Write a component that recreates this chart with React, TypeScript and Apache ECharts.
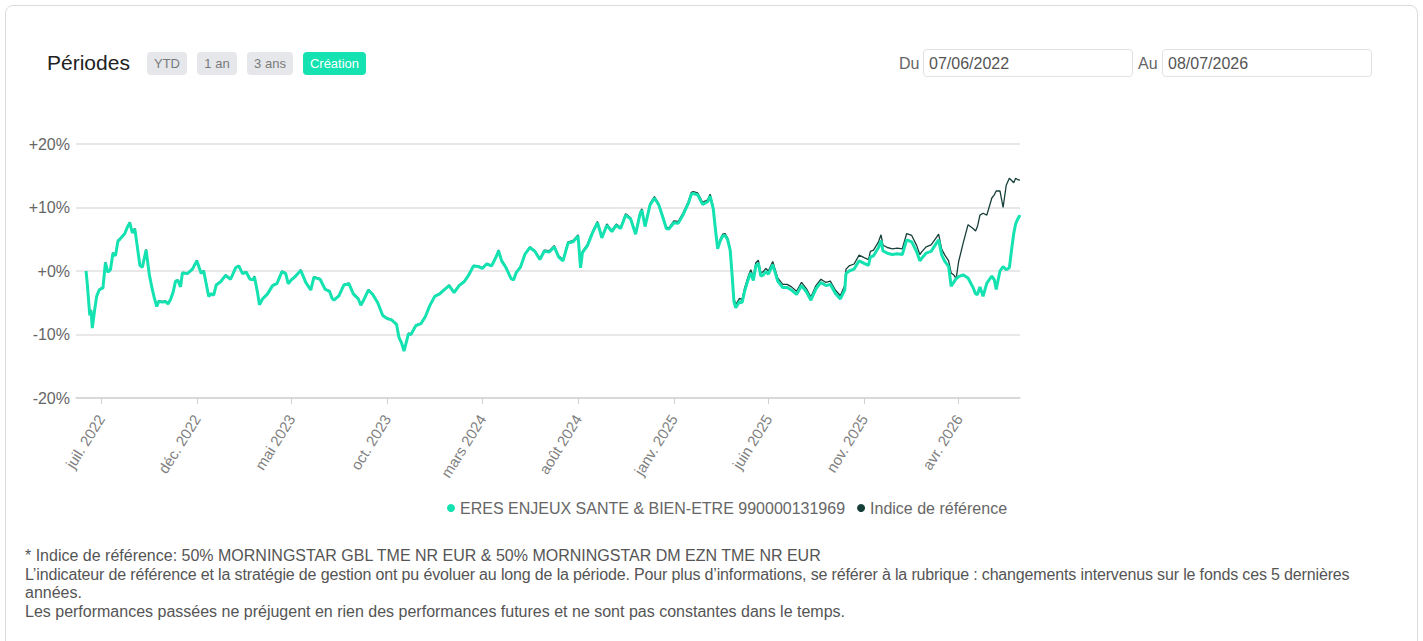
import React, { useEffect, useRef } from "react";
import * as echarts from "echarts";

// ---------- DATA ----------
const dates: string[] = [
  "2022-06-07","2022-06-09","2022-06-13","2022-06-15","2022-06-17","2022-06-21","2022-06-24","2022-06-28",
  "2022-07-01","2022-07-04","2022-07-08","2022-07-12","2022-07-16","2022-07-20","2022-07-24","2022-07-28",
  "2022-08-01","2022-08-08","2022-08-12","2022-08-16","2022-08-20","2022-08-24","2022-08-28",
  "2022-09-01","2022-09-05","2022-09-11","2022-09-16","2022-09-20","2022-09-24","2022-09-28",
  "2022-10-01","2022-10-08","2022-10-12","2022-10-16","2022-10-20","2022-10-24","2022-10-28",
  "2022-11-01","2022-11-05","2022-11-08","2022-11-16","2022-11-24",
  "2022-12-01","2022-12-08","2022-12-12","2022-12-16","2022-12-20","2022-12-24","2022-12-28",
  "2023-01-01","2023-01-08","2023-01-16","2023-01-24",
  "2023-02-01","2023-02-06","2023-02-12","2023-02-18","2023-02-24",
  "2023-03-01","2023-03-03","2023-03-08","2023-03-11","2023-03-16","2023-03-24",
  "2023-04-01","2023-04-08","2023-04-16","2023-04-22","2023-04-26",
  "2023-05-01","2023-05-08","2023-05-16","2023-05-24",
  "2023-06-01","2023-06-06","2023-06-16","2023-06-24",
  "2023-07-01","2023-07-05","2023-07-08","2023-07-16","2023-07-24",
  "2023-08-01","2023-08-08","2023-08-16","2023-08-20","2023-08-24",
  "2023-09-01","2023-09-08","2023-09-16","2023-09-24",
  "2023-10-01","2023-10-08","2023-10-16","2023-10-20","2023-10-24","2023-10-28",
  "2023-11-01","2023-11-04","2023-11-08","2023-11-16","2023-11-24",
  "2023-12-01","2023-12-08","2023-12-16","2023-12-24",
  "2024-01-01","2024-01-08","2024-01-16","2024-01-24",
  "2024-02-01","2024-02-08","2024-02-16","2024-02-24",
  "2024-03-01","2024-03-08","2024-03-16","2024-03-24","2024-03-27",
  "2024-04-01","2024-04-08","2024-04-16","2024-04-20","2024-04-24",
  "2024-05-01","2024-05-08","2024-05-16","2024-05-24",
  "2024-06-01","2024-06-08","2024-06-16","2024-06-24",
  "2024-07-01","2024-07-08","2024-07-16","2024-07-24",
  "2024-08-01","2024-08-05","2024-08-08","2024-08-16","2024-08-24",
  "2024-09-01","2024-09-05","2024-09-08","2024-09-16","2024-09-24",
  "2024-10-01","2024-10-08","2024-10-16","2024-10-24",
  "2024-11-01","2024-11-08","2024-11-11","2024-11-16","2024-11-24",
  "2024-12-01","2024-12-08","2024-12-16","2024-12-20","2024-12-24",
  "2025-01-01","2025-01-08","2025-01-16","2025-01-24","2025-01-29",
  "2025-02-01","2025-02-08","2025-02-16","2025-02-24","2025-02-28",
  "2025-03-05","2025-03-08","2025-03-12","2025-03-16","2025-03-20","2025-03-24","2025-03-28",
  "2025-04-01","2025-04-04","2025-04-07","2025-04-10","2025-04-16","2025-04-20","2025-04-24","2025-04-28",
  "2025-05-01","2025-05-04","2025-05-08","2025-05-12","2025-05-16","2025-05-20","2025-05-24","2025-05-28",
  "2025-06-01","2025-06-08","2025-06-16","2025-06-24",
  "2025-07-01","2025-07-08","2025-07-16","2025-07-24",
  "2025-08-01","2025-08-08","2025-08-16","2025-08-24",
  "2025-09-01","2025-09-08","2025-09-16","2025-09-24",
  "2025-10-01","2025-10-03","2025-10-08","2025-10-16","2025-10-24",
  "2025-11-01","2025-11-08","2025-11-11","2025-11-16","2025-11-24","2025-11-28",
  "2025-12-01","2025-12-08","2025-12-16","2025-12-24",
  "2026-01-01","2026-01-08","2026-01-16","2026-01-24","2026-01-29",
  "2026-02-01","2026-02-08","2026-02-16","2026-02-24","2026-02-28",
  "2026-03-05","2026-03-10","2026-03-16","2026-03-20","2026-03-24","2026-03-28",
  "2026-04-01","2026-04-08","2026-04-16","2026-04-24","2026-04-28",
  "2026-05-01","2026-05-05","2026-05-10","2026-05-16","2026-05-24","2026-05-28","2026-05-31",
  "2026-06-06","2026-06-11","2026-06-16","2026-06-21","2026-06-25","2026-06-28",
  "2026-07-01","2026-07-04","2026-07-08",
];

const fundValues: number[] = [
  0.0, -2.0, -7.0, -6.2, -9.0, -6.0, -4.0, -3.0,
  -2.8, -2.7, 1.3, -0.2, 0.2, 2.8, 2.4, 4.7,
  5.1, 5.9, 6.9, 7.6, 6.0, 6.6, 3.8,
  0.9, 0.6, 3.3, -0.5, -2.5, -4.2, -5.6,
  -4.8, -4.9, -4.8, -5.2, -4.5, -3.4, -1.6,
  -1.5, -2.5, -0.3, -0.4, 0.3,
  1.6, -0.4, 0.0, -2.0, -4.0, -3.6, -3.8,
  -2.2, -1.7, -0.7, -1.3,
  0.5, 0.8, -0.4, -0.2, -1.3,
  -1.4, -0.9, -3.4, -5.3, -4.4, -3.6,
  -2.3, -2.0, -0.1, -0.4, -2.0,
  -1.4, -0.8, 0.1, -1.8,
  -3.0, -1.0, -1.3, -2.9,
  -3.2, -4.3, -4.6, -3.9, -2.2,
  -2.0, -3.6, -4.4, -5.4, -4.7,
  -3.0, -3.7, -5.0, -7.0,
  -7.5, -7.7, -8.4, -10.5, -11.3, -12.6,
  -11.1, -9.9, -10.0, -8.6, -8.3,
  -7.2, -5.5, -4.0, -3.6,
  -2.9, -2.3, -3.4, -2.3,
  -1.7, -0.7, 0.8, 0.7,
  0.4, 1.1, 0.8, 2.4, 3.2,
  1.6, 0.5, -1.2, -1.4, -0.3,
  0.6, 2.6, 3.7, 3.1,
  1.8, 3.1, 3.0, 3.8,
  2.2, 1.6, 4.4, 4.6,
  5.5, 0.5, 2.9, 4.0, 6.0,
  7.6, 6.3, 5.2, 7.2, 6.2,
  7.2, 6.7, 8.8, 8.2,
  5.8, 9.0, 9.6, 7.0, 10.4,
  11.5, 10.4, 8.0, 6.7, 6.6,
  7.6, 7.5, 8.9, 10.6, 12.1,
  12.2, 12.0, 10.5, 10.9, 11.8,
  9.8, 7.0, 3.5, 4.7, 5.5, 5.6, 4.9,
  3.3, -0.5, -4.8, -5.8, -4.8, -5.0, -3.2, -1.9,
  -1.0, -0.3, -1.5, 0.8, 1.2, -0.8, -0.6, -0.1,
  -0.5, 1.0, -1.6, -2.6,
  -2.6, -3.0, -3.7, -2.3,
  -3.3, -4.6, -2.8, -1.8,
  -2.3, -2.1, -3.5, -4.4,
  -3.0, -0.4, 0.0, 0.3, 1.6,
  1.2, 0.9, 2.2, 2.4, 3.7, 4.8,
  3.2, 2.8, 2.6, 2.7,
  2.6, 4.9, 4.6, 3.0, 1.6,
  2.0, 2.8, 3.1, 4.3, 4.9,
  2.5, 1.5, 0.7, -2.4, -1.8, -1.2,
  -0.9, -0.6, -1.1, -2.6, -3.6,
  -3.7, -2.5, -4.0, -1.9, -0.8, -1.4, -2.9,
  0.0, 0.7, 0.2, 0.5, 3.7, 5.9,
  7.4, 8.1, 8.8,
];

const referenceValues: number[] = [
  0.0, -1.9, -6.9, -6.1, -8.9, -5.9, -3.9, -2.9,
  -2.7, -2.6, 1.4, -0.1, 0.3, 2.9, 2.5, 4.8,
  5.2, 6.0, 7.0, 7.7, 6.1, 6.7, 3.9,
  1.0, 0.7, 3.4, -0.4, -2.4, -4.1, -5.5,
  -4.7, -4.8, -4.7, -5.1, -4.4, -3.3, -1.5,
  -1.4, -2.4, -0.2, -0.3, 0.4,
  1.7, -0.3, 0.1, -1.9, -3.9, -3.5, -3.7,
  -2.1, -1.6, -0.6, -1.2,
  0.6, 0.9, -0.3, -0.1, -1.2,
  -1.3, -0.8, -3.3, -5.2, -4.3, -3.5,
  -2.2, -1.9, 0.0, -0.3, -1.9,
  -1.3, -0.7, 0.2, -1.7,
  -2.9, -0.9, -1.2, -2.8,
  -3.1, -4.2, -4.5, -3.8, -2.1,
  -1.9, -3.5, -4.3, -5.3, -4.6,
  -2.9, -3.6, -4.9, -6.9,
  -7.4, -7.6, -8.3, -10.4, -11.2, -12.5,
  -11.0, -9.8, -9.9, -8.5, -8.2,
  -7.1, -5.4, -3.9, -3.5,
  -2.8, -2.2, -3.3, -2.2,
  -1.6, -0.6, 0.9, 0.8,
  0.5, 1.2, 0.9, 2.5, 3.3,
  1.7, 0.6, -1.1, -1.3, -0.2,
  0.7, 2.7, 3.8, 3.2,
  2.0, 3.3, 3.2, 4.0,
  2.4, 1.8, 4.6, 4.8,
  5.7, 0.7, 3.1, 4.2, 6.2,
  7.8, 6.5, 5.4, 7.4, 6.4,
  7.4, 6.9, 9.0, 8.4,
  6.0, 9.2, 9.8, 7.2, 10.6,
  11.7, 10.6, 8.2, 6.9, 6.8,
  7.9, 7.8, 9.2, 10.9, 12.4,
  12.5, 12.3, 10.8, 11.2, 12.1,
  10.1, 7.3, 3.8, 5.0, 5.8, 5.9, 5.2,
  3.6, 0.0, -4.3, -5.3, -4.3, -4.5, -2.7, -1.4,
  -0.5, 0.2, -1.0, 1.3, 1.7, -0.3, -0.1, 0.4,
  0.0, 1.5, -1.1, -2.1,
  -2.1, -2.5, -3.2, -1.8,
  -2.8, -4.1, -2.3, -1.3,
  -1.8, -1.6, -3.0, -3.9,
  -2.3, 0.3, 0.8, 1.1, 2.5,
  2.1, 1.8, 3.1, 3.3, 4.6, 5.7,
  4.1, 3.7, 3.5, 3.6,
  3.5, 5.9, 5.6, 4.0, 2.6,
  3.0, 3.8, 4.1, 5.2, 5.8,
  3.4, 2.5, 1.6, -0.3, -0.6, -1.2,
  1.5, 4.3, 7.3, 6.7, 6.3,
  7.0, 8.8, 9.1, 8.8, 11.5, 12.0, 12.6,
  12.6, 10.0, 13.5, 14.6, 14.2, 13.9,
  14.6, 14.4, 14.3,
];

const seriesNames = ["ERES ENJEUX SANTE & BIEN-ETRE 990000131969", "Indice de référence"];
const xAxisStart = "2022-05-22";
const xAxisEnd = "2026-07-08";
const tickDates = ["2022-07-01","2022-12-01","2023-05-01","2023-10-01","2024-03-01","2024-08-01","2025-01-01","2025-06-01","2025-11-01","2026-04-01"];
const tickLabels = ["juil. 2022","déc. 2022","mai 2023","oct. 2023","mars 2024","août 2024","janv. 2025","juin 2025","nov. 2025","avr. 2026"];
const yMin = -20;
const yMax = 20;
const yStep = 10;

const periodButtons = ["YTD", "1 an", "3 ans", "Création"];
const dateFrom = "07/06/2022";
const dateTo = "08/07/2026";
const footnotes = [
  "* Indice de référence: 50% MORNINGSTAR GBL TME NR EUR & 50% MORNINGSTAR DM EZN TME NR EUR",
  "L’indicateur de référence et la stratégie de gestion ont pu évoluer au long de la période. Pour plus d’informations, se référer à la rubrique : changements intervenus sur le fonds ces 5 dernières",
  "années.",
  "Les performances passées ne préjugent en rien des performances futures et ne sont pas constantes dans le temps.",
];

// ---------- STYLE ----------
const FONT = "'Liberation Sans', Arial, Helvetica, sans-serif";
const GREEN = "#14e2b0";
const DARK = "#173f3a";

function toTime(s: string): number {
  const [y, m, d] = s.split("-").map(Number);
  return new Date(y, m - 1, d).getTime();
}

function Chart() {
  const ref = useRef<HTMLDivElement>(null);
  useEffect(() => {
    if (!ref.current) return;
    const chart = echarts.init(ref.current, undefined, { renderer: "svg" });
    const tickTimes = tickDates.map(toTime);
    const fundData = dates.map((d, i) => [toTime(d), fundValues[i]]);
    const refData = dates.map((d, i) => [toTime(d), referenceValues[i]]);
    chart.setOption({
      animation: false,
      textStyle: { fontFamily: FONT },
      grid: { left: 56, right: 20, top: 44, height: 254 },
      legend: {
        left: 422,
        top: 395,
        icon: "circle",
        itemWidth: 8,
        itemHeight: 8,
        itemGap: 12,
        textStyle: { color: "#666", fontSize: 16, fontFamily: FONT },
        data: seriesNames,
      },
      xAxis: {
        type: "value",
        min: toTime(xAxisStart),
        max: toTime(xAxisEnd),
        axisLine: { show: true, onZero: false, lineStyle: { color: "#d4d4d4", width: 1.5 } },
        axisTick: { show: true, customValues: tickTimes, length: 6, lineStyle: { color: "#d0d0d0" } },
        axisLabel: {
          customValues: tickTimes,
          rotate: 58,
          margin: 18,
          color: "#808080",
          fontSize: 15,
          fontFamily: FONT,
          formatter: (v: number) => {
            const idx = tickTimes.findIndex((t) => Math.abs(t - v) < 86400000);
            return idx >= 0 ? tickLabels[idx] : "";
          },
        },
        splitLine: { show: false },
      },
      yAxis: {
        type: "value",
        min: yMin,
        max: yMax,
        interval: yStep,
        axisLine: { show: false },
        axisTick: { show: false },
        axisLabel: {
          color: "#666",
          fontSize: 16,
          margin: 6,
          fontFamily: FONT,
          formatter: (v: number) => (v >= 0 ? "+" : "") + v + "%",
        },
        splitLine: { lineStyle: { color: "#e8e8e8", width: 2 } },
      },
      series: [
        {
          name: seriesNames[0],
          type: "line",
          data: fundData,
          showSymbol: false,
          symbol: "circle",
          lineStyle: { color: GREEN, width: 3 },
          itemStyle: { color: GREEN },
          z: 3,
        },
        {
          name: seriesNames[1],
          type: "line",
          data: refData,
          showSymbol: false,
          symbol: "circle",
          lineStyle: { color: DARK, width: 1.3 },
          itemStyle: { color: DARK },
          z: 2,
        },
      ],
    });
    return () => chart.dispose();
  }, []);
  return <div ref={ref} style={{ position: "absolute", left: 20, top: 100, width: 1020, height: 430 }} />;
}

const btnBase: React.CSSProperties = {
  position: "absolute",
  top: 52,
  height: 23,
  lineHeight: "23px",
  fontSize: 13,
  textAlign: "center",
  borderRadius: 4,
};

const inputBox: React.CSSProperties = {
  position: "absolute",
  top: 49,
  width: 203,
  height: 26,
  border: "1px solid #dfe2e6",
  borderRadius: 4,
  fontSize: 16,
  lineHeight: "27px",
  paddingLeft: 5,
  color: "#555",
  boxSizing: "content-box",
};

export default function App() {
  const btnLefts = [147, 197, 247, 303];
  const btnWidths = [40, 40, 46, 63];
  return (
    <div
      style={{
        position: "fixed",
        left: 0,
        top: 0,
        width: 1423,
        height: 641,
        overflow: "hidden",
        background: "#fff",
        fontFamily: FONT,
      }}
    >
      <div
        style={{
          position: "absolute",
          left: 5,
          top: 5,
          width: 1411,
          height: 680,
          border: "1px solid #dcdcdc",
          borderRadius: 8,
          background: "#fff",
        }}
      />
      <div style={{ position: "absolute", left: 47, top: 50, fontSize: 21, lineHeight: "25px", color: "#222" }}>
        Périodes
      </div>
      {periodButtons.map((b, i) => {
        const active = i === periodButtons.length - 1;
        return (
          <div
            key={b}
            style={{
              ...btnBase,
              left: btnLefts[i],
              width: btnWidths[i],
              background: active ? GREEN : "#e5e7eb",
              color: active ? "#fff" : "#7a7a7a",
            }}
          >
            {b}
          </div>
        );
      })}
      <div style={{ position: "absolute", left: 899, top: 54, fontSize: 16, lineHeight: "19px", color: "#666" }}>Du</div>
      <div style={{ ...inputBox, left: 923 }}>{dateFrom}</div>
      <div style={{ position: "absolute", left: 1138, top: 54, fontSize: 16, lineHeight: "19px", color: "#666" }}>Au</div>
      <div style={{ ...inputBox, left: 1162 }}>{dateTo}</div>
      <Chart />
      <div style={{ position: "absolute", left: 25, top: 547, fontSize: 16, lineHeight: "18.7px", color: "#555", whiteSpace: "nowrap" }}>
        {footnotes.map((f, i) => (
          <div key={i} style={i === 1 ? { letterSpacing: "-0.15px" } : undefined}>
            {f}
          </div>
        ))}
      </div>
    </div>
  );
}
